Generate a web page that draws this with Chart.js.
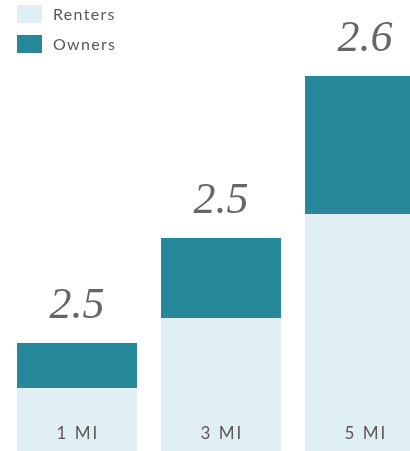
<!DOCTYPE html>
<html>
<head>
<meta charset="utf-8">
<script src="https://cdn.jsdelivr.net/npm/chart.js@4"></script>
<style>
  html, body { margin: 0; padding: 0; background: #fff; overflow: hidden; }
  #wrap { width: 442px; height: 451px; }
</style>
</head>
<body>
<div id="wrap"><canvas id="myChart" width="442" height="451"></canvas></div>
<script>
// distance from the site, households (thousands) by tenure, average household size
const categories = ['1 MI', '3 MI', '5 MI'];
const renters = [6.3, 13.3, 23.7];
const owners = [4.5, 8.0, 13.8];
const avgSize = [2.5, 2.5, 2.6];

const renterColor = '#e0eff4';
const ownerColor = '#27889b';
const textColor = '#585858';

// draws the legend, the size numbers above bars and the labels inside bars
const labelsPlugin = {
    id: 'labels',
    afterDatasetsDraw(chart) {
        const ctx = chart.ctx;
        const top = chart.getDatasetMeta(chart.data.datasets.length - 1);
        const bottom = chart.chartArea.bottom;
        ctx.save();

        // average size above each bar
        ctx.fillStyle = '#666';
        ctx.font = 'italic 44px "Liberation Serif"';
        ctx.textAlign = 'center';
        ctx.textBaseline = 'alphabetic';
        top.data.forEach((bar, i) => {
            ctx.fillText(avgSize[i].toFixed(1), bar.x, bar.y - 25);
        });

        // category label inside bar bottom
        ctx.fillStyle = textColor;
        ctx.font = '17px Lato';
        ctx.letterSpacing = '2px';
        top.data.forEach((bar, i) => {
            ctx.fillText(categories[i], bar.x + 1, bottom - 12);
        });

        // legend
        ctx.textAlign = 'left';
        ctx.textBaseline = 'middle';
        ctx.font = '16px Lato';
        ctx.letterSpacing = '1.3px';
        chart.data.datasets.forEach((ds, i) => {
            const y = 5 + i * 30;
            ctx.fillStyle = ds.backgroundColor;
            ctx.fillRect(17, y, 25, 18);
            ctx.fillStyle = textColor;
            ctx.fillText(ds.label, 53, y + 10);
        });
        ctx.restore();
    }
};

new Chart(document.getElementById('myChart'), {
    type: 'bar',
    data: {
        labels: categories,
        datasets: [{
            label: 'Renters',
            data: renters,
            backgroundColor: renterColor
        }, {
            label: 'Owners',
            data: owners,
            backgroundColor: ownerColor
        }]
    },
    options: {
        responsive: false,
        animation: false,
        barPercentage: 1,
        categoryPercentage: 0.8333,
        layout: { padding: { left: 5, right: 5, top: 0, bottom: 0 } },
        scales: {
            x: { stacked: true, display: false },
            y: { stacked: true, display: false, min: 0, max: 45.1 }
        },
        plugins: {
            legend: { display: false },
            tooltip: { enabled: false }
        }
    },
    plugins: [labelsPlugin]
});
</script>
</body>
</html>
